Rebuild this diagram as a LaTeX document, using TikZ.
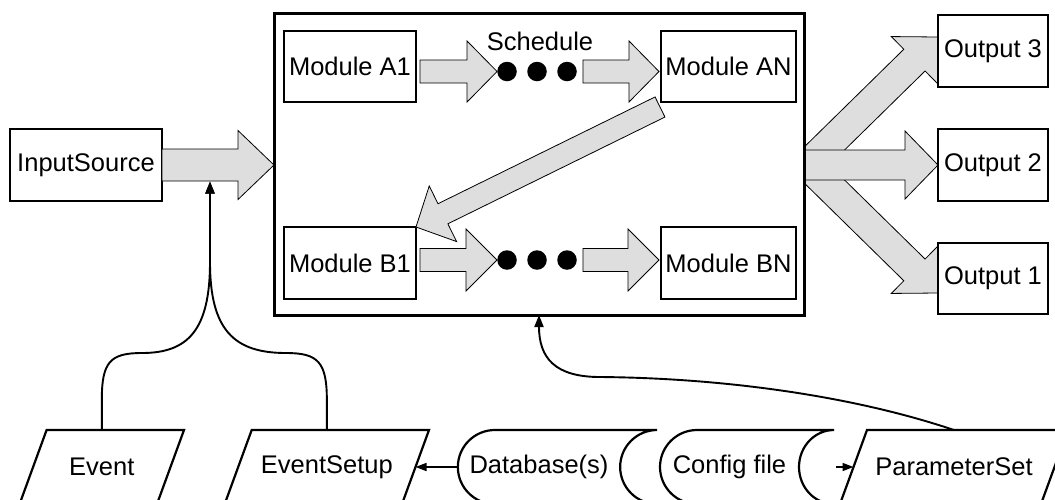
\documentclass[tikz,border=0pt]{standalone}
\usepackage{fontspec}
\setmainfont{Liberation Sans}
\usetikzlibrary{calc,arrows.meta}
\definecolor{arrowgray}{RGB}{222,222,222}
\pgfdeclarelayer{bg}
\pgfsetlayers{bg,main}
\tikzset{
  box/.style={draw, line width=2.2pt, fill=white, inner sep=0pt, outer sep=0pt},
  blockarrow/.style={draw, line width=0.8pt, fill=arrowgray, line join=miter},
  conn/.style={line width=1.9pt, -{Triangle[length=12pt,width=9pt]}},
  dotnode/.style={circle, fill=black, minimum size=19.5pt, inner sep=0pt},
  txt/.style={inner sep=0pt, outer sep=0pt, minimum height=74pt},
  shapeline/.style={line width=2.2pt, line join=miter}
}
% block arrow: start, end, shaft half width, head half width, head length
\newcommand{\blockarr}[5]{%
  \path (#1) coordinate (baS) (#2) coordinate (baE);
  \coordinate (baH) at ($(baE)!#5!(baS)$);
  \draw[blockarrow] ($(baS)!#3!90:(baE)$) -- ($(baH)!#3!-90:(baS)$) -- ($(baH)!#4!-90:(baS)$) -- (baE) -- ($(baH)!#4!90:(baS)$) -- ($(baH)!#3!90:(baS)$) -- ($(baS)!#3!-90:(baE)$) -- cycle;
}
\begin{document}
\begin{tikzpicture}[x=1pt, y=-1pt, font=\fontsize{25.5}{30}\selectfont]
\useasboundingbox (0,0) rectangle (1055,499);
\clip (0,0) rectangle (1055,499);

% main schedule box
\node[draw, line width=3pt, fill=white, minimum width=530pt, minimum height=302pt, inner sep=0pt, outer sep=0pt] (sched) at (539,164) {};

% modules
\node[box, minimum width=132pt, minimum height=71pt] (a1) at (350,66.5) {Module A1};
\node[box, minimum width=135pt, minimum height=71pt] (an) at (728.5,66.5) {Module AN};
\node[box, minimum width=132pt, minimum height=72pt] (b1) at (350,263) {Module B1};
\node[box, minimum width=135pt, minimum height=72pt] (bn) at (728.5,263) {Module BN};
\node[txt, minimum height=0pt] (schedlabel) at (540,41) {Schedule};

% dots
\node[dotnode] (da1) at (507,71.5) {};
\node[dotnode] (da2) at (537,71.5) {};
\node[dotnode] (da3) at (567,71.5) {};
\node[dotnode] (db1) at (507,260) {};
\node[dotnode] (db2) at (537,260) {};
\node[dotnode] (db3) at (567,260) {};

% inner block arrows
\blockarr{$(a1.east |- da1)+(4,0)$}{da1.west}{11.5pt}{30.5pt}{30pt}
\blockarr{$(da3.east)+(6,0)$}{$(an.west |- da3)+(-2,0)$}{11.5pt}{30.5pt}{30pt}
\blockarr{$(b1.east |- db1)+(4,0)$}{db1.west}{11.5pt}{31pt}{31pt}
\blockarr{$(db3.east)+(6,0)$}{$(bn.west |- db3)+(-2,0)$}{11.5pt}{31pt}{31pt}
\blockarr{$(an.south west)+(-1,5)$}{b1.north east}{11.2pt}{31pt}{30pt}

% input source
\node[box, minimum width=152pt, minimum height=72pt] (in) at (86,165) {InputSource};
\blockarr{in.east}{sched.west |- in.east}{16pt}{34.5pt}{36pt}
\coordinate (injoin) at (210,181.5);

% outputs
\node[box, minimum width=110pt, minimum height=72pt] (out3) at (993,51) {Output 3};
\node[box, minimum width=110pt, minimum height=72pt] (out2) at (993,165) {Output 2};
\node[box, minimum width=110pt, minimum height=71pt] (out1) at (993,278.5) {Output 1};

\begin{pgfonlayer}{bg}
\blockarr{$(sched.east)+(0,4.5)$}{$(out3.north west)+(0,22)$}{15.2pt}{33pt}{33pt}
\blockarr{$(sched.east)+(0,-2.5)$}{$(out1.south west)+(0,-21)$}{15.2pt}{33pt}{33pt}
\blockarr{sched.east |- out2.west}{out2.west}{15pt}{34pt}{33pt}
\end{pgfonlayer}

% bottom row
\node[txt, minimum width=164.4pt] (ev) at (101.8,467) {Event};
\draw[shapeline] ($(ev.north west)+(27,0)$) -- (ev.north east) -- ($(ev.south east)+(-27,0)$) -- (ev.south west) -- cycle;
\node[txt, minimum width=204.3pt] (es) at (326.85,467) {EventSetup};
\draw[shapeline] ($(es.north west)+(27,0)$) -- (es.north east) -- ($(es.south east)+(-27,0)$) -- (es.south west) -- cycle;
\node[txt, minimum width=228pt] (ps) at (954,467) {ParameterSet};
\draw[shapeline] ($(ps.north west)+(27,0)$) -- (ps.north east) -- ($(ps.south east)+(-27,0)$) -- (ps.south west) -- cycle;

\node[txt, minimum width=162.3pt] (db) at (539,467) {Database(s)};
\draw[shapeline] ($(db.north west)+(37,0)$) .. controls ($(db.north west)+(16.6,0)$) and ($(db.west)+(0,-20.4)$) .. (db.west)
  .. controls ($(db.west)+(0,20.4)$) and ($(db.south west)+(16.6,0)$) .. ($(db.south west)+(37,0)$)
  -- ($(db.south east)+(37,0)$)
  .. controls ($(db.south east)+(16.6,0)$) and ($(db.east)+(0,20.4)$) .. (db.east)
  .. controls ($(db.east)+(0,-20.4)$) and ($(db.north east)+(16.6,0)$) .. ($(db.north east)+(37,0)$) -- cycle;

\node[txt, minimum width=139pt] (cfg) at (729.5,467) {Config file};
\draw[shapeline] ($(cfg.north west)+(37,0)$) .. controls ($(cfg.north west)+(16.6,0)$) and ($(cfg.west)+(0,-20.4)$) .. (cfg.west)
  .. controls ($(cfg.west)+(0,20.4)$) and ($(cfg.south west)+(16.6,0)$) .. ($(cfg.south west)+(37,0)$)
  -- ($(cfg.south east)+(35,0)$)
  .. controls ($(cfg.south east)+(15.6,0)$) and ($(cfg.east)+(0,20.4)$) .. (cfg.east)
  .. controls ($(cfg.east)+(0,-20.4)$) and ($(cfg.north east)+(15.6,0)$) .. ($(cfg.north east)+(35,0)$) -- cycle;

% connectors
\draw[line width=1.6pt, -{Triangle[length=11pt,width=8pt]}] (db.west) -- ($(es.east)+(-13.5,0)$);
\draw[line width=1.6pt, -{Triangle[length=11pt,width=8pt]}] ($(cfg.east)+(37,0)$) -- ($(ps.west)+(13.5,0)$);

\draw[conn] (ev.north) -- (101.8,400) .. controls (101.8,362) and (110,353) .. (142,353)
  .. controls (188,353) and (210,330) .. (210,262) -- (injoin);
\draw[conn] (es.north) -- (326.85,400) .. controls (326.85,362) and (318,353) .. (286,353)
  .. controls (234,353) and (210,330) .. (210,262) -- (injoin);
\draw[conn] (ps.north) .. controls (850,395) and (720,378) .. (600,377)
  .. controls (555,377) and (539,358) .. (sched.south);
\end{tikzpicture}
\end{document}
